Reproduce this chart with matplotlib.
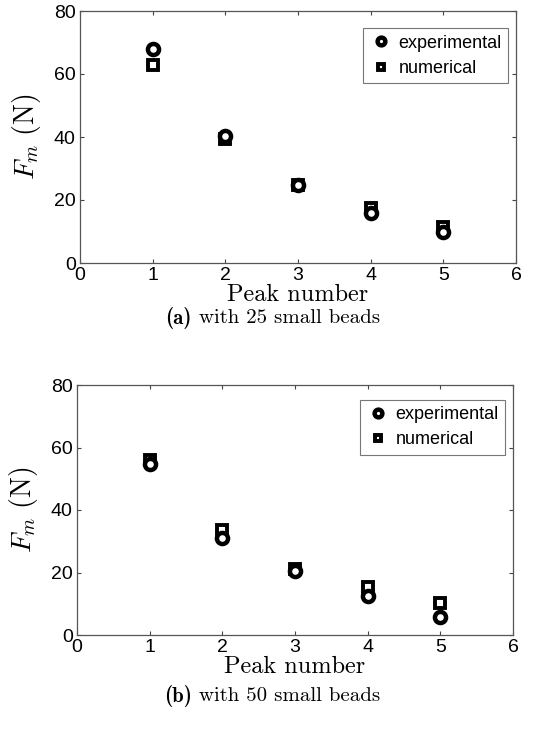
import matplotlib
matplotlib.use("Agg")
import matplotlib.pyplot as plt

plt.rcParams['mathtext.fontset'] = 'cm'
plt.rcParams['font.family'] = ['Liberation Sans', 'DejaVu Sans']

peaks = [1, 2, 3, 4, 5]
exp_25 = [67.8, 40.3, 24.8, 15.8, 9.9]
num_25 = [62.9, 39.3, 24.8, 17.4, 11.5]
exp_50 = [54.6, 30.9, 20.4, 12.6, 5.7]
num_50 = [56.0, 33.6, 21.2, 15.5, 10.2]
xticks = [0, 1, 2, 3, 4, 5, 6]
yticks = [0, 20, 40, 60, 80]
cap_bold = ["(a)", "(b)"]
cap_rest = ["with 25 small beads", "with 50 small beads"]

fig = plt.figure(figsize=(5.41, 7.30), dpi=100)
W, H = 541, 730
boxes = [(80, 516, 11, 263), (77, 513, 385, 635)]
cap_y = [318, 696]
leg_y = [0.945, 0.955]
datasets = [(exp_25, num_25), (exp_50, num_50)]

renderer = fig.canvas.get_renderer()

for (l, r, t, b), (ex, nu), cb, cr, cy, ly in zip(boxes, datasets, cap_bold, cap_rest, cap_y, leg_y):
    ax = fig.add_axes([l / W, 1 - b / H, (r - l) / W, (b - t) / H])
    ax.plot(peaks, nu, linestyle='none', marker='s', markersize=6.5,
            markerfacecolor='white', markeredgecolor='black', markeredgewidth=2.8,
            label='numerical', zorder=3)
    ax.plot(peaks, ex, linestyle='none', marker='o', markersize=8,
            markerfacecolor='white', markeredgecolor='black', markeredgewidth=3.2,
            label='experimental', zorder=4)
    ax.set_xlim(0, 6)
    ax.set_ylim(0, 80)
    ax.set_xticks(xticks)
    ax.set_yticks(yticks)
    ax.tick_params(direction='in', length=3, width=0.8, top=True, right=True,
                   labelsize=14, colors='#444444', labelcolor='black', pad=3)
    for s in ax.spines.values():
        s.set_color('#555555')
        s.set_linewidth(0.9)
    h, lab = ax.get_legend_handles_labels()
    leg = ax.legend([h[1], h[0]], [lab[1], lab[0]], loc='upper right',
                    bbox_to_anchor=(0.99, ly), fontsize=13, markerscale=0.7,
                    frameon=True, fancybox=False, edgecolor='#555555',
                    handletextpad=0.3, handlelength=1.3, borderpad=0.35,
                    labelspacing=0.45, borderaxespad=0.2)
    leg.get_frame().set_linewidth(0.8)
    ax.set_ylabel(r"$F_m\ \mathrm{(N)}$", fontsize=20, labelpad=8)
    ax.set_xlabel("Peak number", fontsize=17.5, family='cmr10', labelpad=0)

    # caption: bold label + regular text, centred on figure
    tb = fig.text(0, 1 - cy / H, cb, ha='left', va='center', fontsize=15, family='cmb10')
    tr = fig.text(0, 1 - cy / H, " " + cr, ha='left', va='center', fontsize=15, family='cmr10')
    wb = tb.get_window_extent(renderer).width
    wr = tr.get_window_extent(renderer).width
    x0 = (W / 2 + 2) - (wb + wr) / 2
    tb.set_x(x0 / W)
    tr.set_x((x0 + wb) / W)

fig.savefig("out.png", dpi=100)
